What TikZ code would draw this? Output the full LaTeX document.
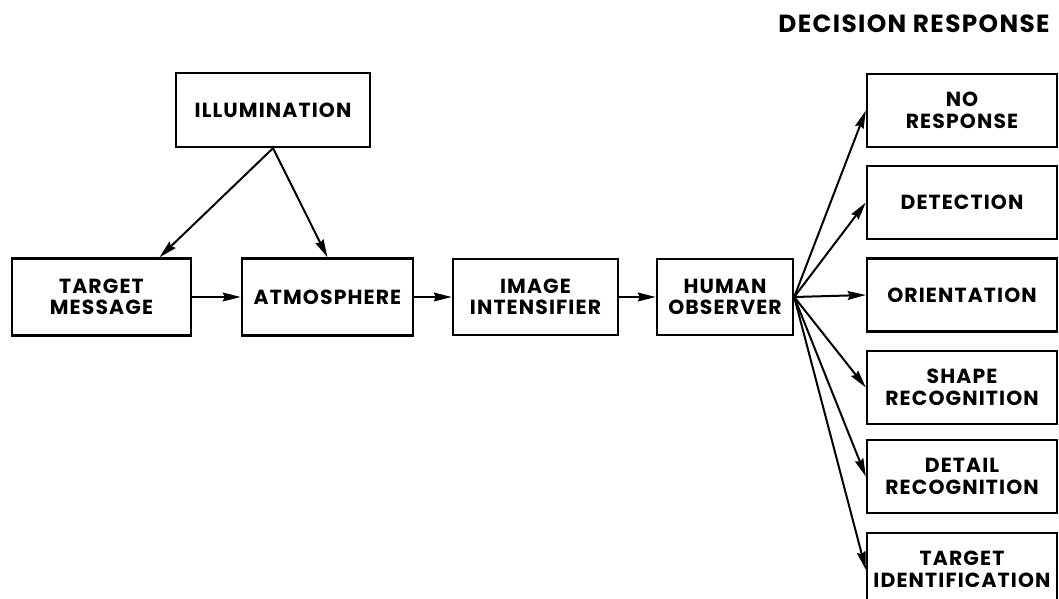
\documentclass[tikz,border=0pt]{standalone}
\usepackage{fontspec}
\setmainfont{Poppins}
\newfontfamily\lblfont[LetterSpace=5.5]{Poppins}
\usetikzlibrary{arrows.meta}
\tikzset{
  blockbox/.style = {draw,line width=1.2pt,inner sep=0pt,align=center,
                     font=\lblfont\bfseries\fontsize{10.2}{10.8}\selectfont},
  resbox/.style   = {blockbox,minimum width=95pt,minimum height=36.5pt},
  flowarr/.style  = {-{Stealth[length=9pt,width=4.4pt,inset=1pt]},line width=1pt}
}

\begin{document}
\begin{tikzpicture}[x=0.5pt,y=-0.5pt]
  \clip (0,0) rectangle (1059,599);
  \fill[white] (0,0) rectangle (1059,599);
  % inputs
  \node[blockbox,minimum width=97pt,minimum height=37pt] (illum) at (273,110) {ILLUMINATION};
  \node[blockbox,minimum width=89.5pt,minimum height=38.5pt] (target) at (101.5,297) {TARGET\\MESSAGE};
  \node[blockbox,minimum width=85.5pt,minimum height=38.5pt] (atmos) at (327.5,297) {ATMOSPHERE};
  \node[blockbox,minimum width=82.5pt,minimum height=38pt] (intens) at (535.5,297) {IMAGE\\INTENSIFIER};
  \node[blockbox,minimum width=68pt,minimum height=38pt] (obs) at (725,297) {HUMAN\\OBSERVER};
  % responses
  \node[font=\lblfont\bfseries\fontsize{12.4}{14}\selectfont] (dechead) at (914,24) {DECISION RESPONSE};
  \node[resbox] (nores)  at (962,110.5) {NO\\RESPONSE};
  \node[resbox] (detect) at (962,202.5) {DETECTION};
  \node[resbox] (orient) at (962,295)   {ORIENTATION};
  \node[resbox] (shape)  at (962,387.5) {SHAPE\\RECOGNITION};
  \node[resbox] (detail) at (962,476.5) {DETAIL\\RECOGNITION};
  \node[resbox] (ident)  at (962,569.5) {TARGET\\IDENTIFICATION};
  % connectors
  \coordinate (tgtin) at ([xshift=29pt]target.north);
  \draw[flowarr] (illum.south) -- (tgtin);
  \draw[flowarr] (illum.south) -- (atmos.north);
  \draw[flowarr] (target) -- (atmos);
  \draw[flowarr] (atmos) -- (intens);
  \draw[flowarr] (intens) -- (obs);
  \foreach \r in {nores,detect,orient,shape,detail,ident}
    \draw[flowarr] (obs.east) -- (\r.west);
\end{tikzpicture}
\end{document}
